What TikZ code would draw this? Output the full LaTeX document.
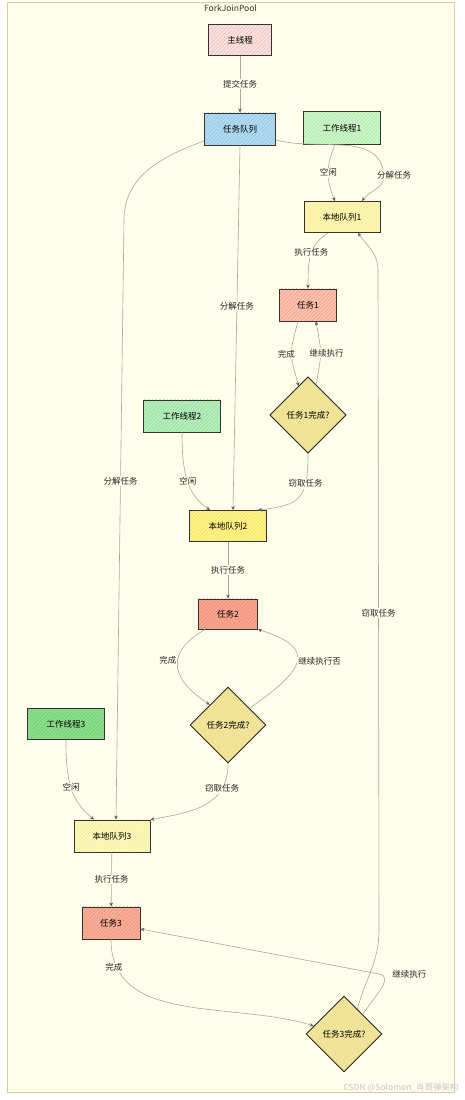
\documentclass[tikz,border=0pt]{standalone}
\usepackage{fontspec}
\setmainfont{Noto Sans CJK SC}
\usepackage{tikz}
\usetikzlibrary{arrows.meta, shapes.geometric, patterns.meta}

\definecolor{poolbg}{HTML}{FEFEEA}
\definecolor{poolline}{HTML}{D2D292}
\definecolor{flowgray}{HTML}{A8A89C}
\definecolor{markgray}{HTML}{C4C6CC}
\definecolor{mainfill}{HTML}{F9E4E0}   \definecolor{mainhatch}{HTML}{EDB8B2}
\definecolor{queuefill}{HTML}{B4DCF0}  \definecolor{queuehatch}{HTML}{8CC3E4}
\definecolor{wafill}{HTML}{CFF5CC}     \definecolor{wahatch}{HTML}{A6E6A2}
\definecolor{wbfill}{HTML}{B9EFBE}     \definecolor{wbhatch}{HTML}{8CDA96}
\definecolor{wcfill}{HTML}{8EE08E}     \definecolor{wchatch}{HTML}{68CA6A}
\definecolor{lqafill}{HTML}{FFF8B4}    \definecolor{lqahatch}{HTML}{F0E68A}
\definecolor{lqbfill}{HTML}{FFF48A}    \definecolor{lqbhatch}{HTML}{EEDD5C}
\definecolor{lqcfill}{HTML}{FFF9BC}    \definecolor{lqchatch}{HTML}{EEE896}
\definecolor{tafill}{HTML}{FBC3B0}     \definecolor{tahatch}{HTML}{EE9C84}
\definecolor{tbfill}{HTML}{FAA690}     \definecolor{tbhatch}{HTML}{EC8A70}
\definecolor{tcfill}{HTML}{F9B09A}     \definecolor{tchatch}{HTML}{EB8E74}
\definecolor{checkfill}{HTML}{EEE08C}  \definecolor{checkhatch}{HTML}{F8F0BC}

\begin{document}
\begin{tikzpicture}[x=1pt, y=1pt, font=\fontsize{8.5}{10}\selectfont,
  box node/.style 2 args={rectangle, draw=black!80, line width=0.9pt,
    inner sep=1pt, preaction={fill=#1},
    pattern={Lines[angle=45, distance=2.6pt, line width=0.5pt]}, pattern color=#2},
  check node/.style={diamond, aspect=1, minimum width=76pt,
    minimum height=76pt, inner sep=0pt, draw=black!85, line width=0.9pt,
    preaction={fill=checkfill},
    pattern={Lines[angle=60, distance=2.4pt, line width=0.4pt]}, pattern color=checkhatch},
  pool frame/.style={draw=poolline, fill=poolbg, line width=1pt},
  flow/.style={draw=flowgray, line width=0.6pt,
    -{Stealth[length=4pt, width=3.5pt, color=black!65]}},
  flow label/.style={fill=poolbg, inner sep=1pt, text=black!85}]

\useasboundingbox (0,0) rectangle (465,1100);

% container
\node[pool frame, minimum width=447pt, minimum height=1090pt] (pool) at (230.5,552) {};
\node[below, inner sep=2pt, text=black!80] (title) at (pool.north) {ForkJoinPool};
\node[text=markgray, font=\fontsize{8.5}{10}\selectfont] (mark) at (401,12) {CSDN @Solomon\_肖哥弹架构};

% threads and queues
\node[box node={mainfill}{mainhatch}, minimum width=63pt, minimum height=31pt] (main) at (240,1060) {主线程};
\node[box node={queuefill}{queuehatch}, minimum width=71pt, minimum height=32pt] (qtask) at (240,971) {任务队列};
\node[box node={wafill}{wahatch}, minimum width=77pt, minimum height=33pt] (w1) at (342,972) {工作线程1};
\node[box node={lqafill}{lqahatch}, minimum width=76pt, minimum height=31pt] (lq1) at (342,883) {本地队列1};
\node[box node={tafill}{tahatch}, minimum width=57pt, minimum height=32pt] (t1) at (308,795) {任务1};
\node[check node] (c1) at (308,685) {任务1完成?};

\node[box node={wbfill}{wbhatch}, minimum width=77pt, minimum height=32pt] (w2) at (182,684) {工作线程2};
\node[box node={lqbfill}{lqbhatch}, minimum width=77pt, minimum height=31pt] (lq2) at (228,574) {本地队列2};
\node[box node={tbfill}{tbhatch}, minimum width=59pt, minimum height=30pt] (t2) at (228,486) {任务2};
\node[check node] (c2) at (228,375) {任务2完成?};

\node[box node={wcfill}{wchatch}, minimum width=77pt, minimum height=31pt] (w3) at (66,376) {工作线程3};
\node[box node={lqcfill}{lqchatch}, minimum width=76pt, minimum height=32pt] (lq3) at (112,264) {本地队列3};
\node[box node={tcfill}{tchatch}, minimum width=58pt, minimum height=32pt] (t3) at (111,177) {任务3};
\node[check node] (c3) at (344,66) {任务3完成?};

% bends
\coordinate (b2) at (384,925);
\coordinate (b5) at (124,880);
\coordinate (k18) at (379,126);
\coordinate (s19a) at (379,170);
\coordinate (s19b) at (378,830);

% connectors
\draw[flow] (main) -- node[flow label] {提交任务} (qtask);
\draw[flow] ([yshift=-11pt]qtask.east) to[out=-15,in=95] node[flow label, pos=1, xshift=10pt] {分解任务} (b2)
  to[out=-85,in=55] ([xshift=20pt]lq1.north);
\draw[flow] ([xshift=-7pt]w1.south) .. controls (326,935) and (326,920) .. node[flow label] {空闲} ([xshift=-7pt]lq1.north);
\draw[flow] (qtask.south) -- node[flow label, pos=0.44] {分解任务} ([xshift=5pt]lq2.north);
\draw[flow] ([yshift=-12pt]qtask.west) to[out=-160,in=90] (b5)
  -- node[flow label, pos=0.435] {分解任务} ([xshift=4pt]lq3.north);

\draw[flow] ([xshift=-14pt]lq1.south) .. controls (310,855) and (308,845) .. node[flow label] {执行任务} (t1.north);
\draw[flow] ([xshift=-10pt]t1.south) to[out=-105,in=105, looseness=1.4] node[flow label, xshift=-5pt] {完成} (c1.108);
\draw[flow] (c1.75) to[out=80,in=-80, looseness=1.4] node[flow label, xshift=6pt] {继续执行} ([xshift=8pt]t1.south);

\draw[flow] (w2.south) .. controls (182,625) and (188,605) .. node[flow label] {空闲} ([xshift=-18pt]lq2.north);
\draw[flow] (c1.south) .. controls (308,600) and (300,595) .. node[flow label, pos=0.28] {窃取任务} ([xshift=30pt]lq2.north);
\draw[flow] (lq2) -- node[flow label] {执行任务} (t2);
\draw[flow] ([xshift=-23pt]t2.south) .. controls (170,450) and (165,425) .. node[flow label, pos=0.45, anchor=east] {完成} (c2.132);
\draw[flow] (c2.38) .. controls (305,430) and (318,452) .. node[flow label, pos=0.5, anchor=west] {继续执行否} (t2.south east);

\draw[flow] (w3.south) .. controls (66,320) and (70,300) .. node[flow label] {空闲} ([xshift=-18pt]lq3.north);
\draw[flow] (c2.south) .. controls (228,295) and (195,288) .. node[flow label, pos=0.25] {窃取任务} (lq3.north east);
\draw[flow] (lq3) -- node[flow label] {执行任务} (t3);
\draw[flow] (t3.south) to[out=-90,in=163] node[flow label, pos=0.13, xshift=-3pt] {完成} (c3.165);
\draw[flow] (c3.46) to[out=60,in=-10] node[flow label, pos=1, anchor=west, xshift=12pt] {继续执行} (k18)
  -- ([yshift=-6pt]t3.east);
\draw[flow] (c3.62) to[out=75,in=-90] (s19a) -- node[flow label, pos=0.48] {窃取任务} (s19b)
  to[out=90,in=-55] ([xshift=16pt]lq1.south);
\end{tikzpicture}
\end{document}
